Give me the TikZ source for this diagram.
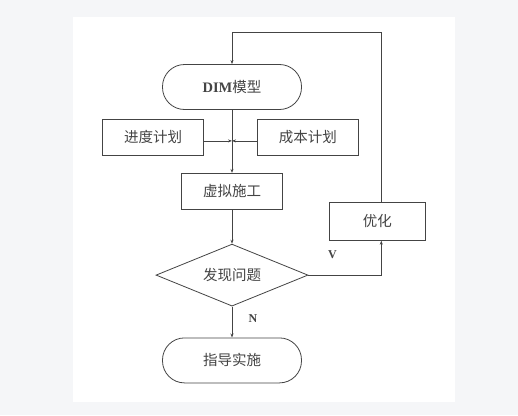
\documentclass[tikz,border=0pt]{standalone}
\usepackage{fontspec}
\setmainfont{Liberation Serif}
\newfontfamily\cjk{Noto Sans CJK SC}
\usetikzlibrary{arrows.meta,positioning,shapes.geometric}
\definecolor{bgcol}{HTML}{F5F6F8}
\definecolor{ink}{HTML}{444444}
\begin{document}
\begin{tikzpicture}[
  x=1pt, y=-1pt,
  terminal/.style={draw=ink, line width=0.8pt, rounded corners=22pt, minimum width=139pt,
                   minimum height=45pt, font=\cjk\fontsize{14.5}{16}\selectfont, text=ink},
  box/.style={draw=ink, line width=0.8pt, minimum width=101pt, minimum height=36pt, inner sep=2pt,
              font=\cjk\fontsize{14.5}{16}\selectfont, text=ink},
  decision/.style={draw=ink, line width=0.8pt, diamond, aspect=2.45, minimum width=152pt,
                   minimum height=62pt, inner sep=0pt,
                   font=\cjk\fontsize{14.5}{16}\selectfont, text=ink},
  lbl/.style={font=\bfseries\fontsize{12}{14}\selectfont, text=ink},
  arr/.style={-{Stealth[length=4pt, width=3pt]}, draw=ink, line width=0.8pt}]
% page and panel
\fill[bgcol] (0,0) rectangle (518,415);
\fill[white] (73,17) rectangle (455,402);
% nodes
\node[terminal] (dim) at (232,87) {{\rmfamily\bfseries DIM}模型};
\coordinate[below=31pt of dim] (join);
\node[box, left=28pt of join, yshift=3.5pt] (sched) {进度计划};
\node[box, right=25pt of join, yshift=3.5pt] (cost) {成本计划};
\node[box, below=63pt of dim] (sim) {虚拟施工};
\node[decision, below=34pt of sim] (dec) {发现问题};
\node[terminal, below=31pt of dec] (guide) {指导实施};
\node[box, right=46pt of sim, yshift=-30pt, minimum width=96pt, minimum height=38pt] (opt) {优化};
\node[lbl] (yes) at ([shift={(24,-20)}]dec.east) {V};
\node[lbl] (no) at ([shift={(21,12)}]dec.south) {N};
% connectors
\draw[arr] (dim) -- (sim);
\draw[arr] (sched.east |- join) -- (join);
\draw[arr] (cost.west |- join) -- (join);
\draw[arr] (sim) -- (dec);
\draw[arr] (dec) -- (guide);
\draw[arr] (dec.east) -| ([xshift=4pt]opt.south);
\draw[arr] ([xshift=4pt]opt.north) |- ([yshift=32pt]dim.north) -- (dim.north);
\end{tikzpicture}
\end{document}
